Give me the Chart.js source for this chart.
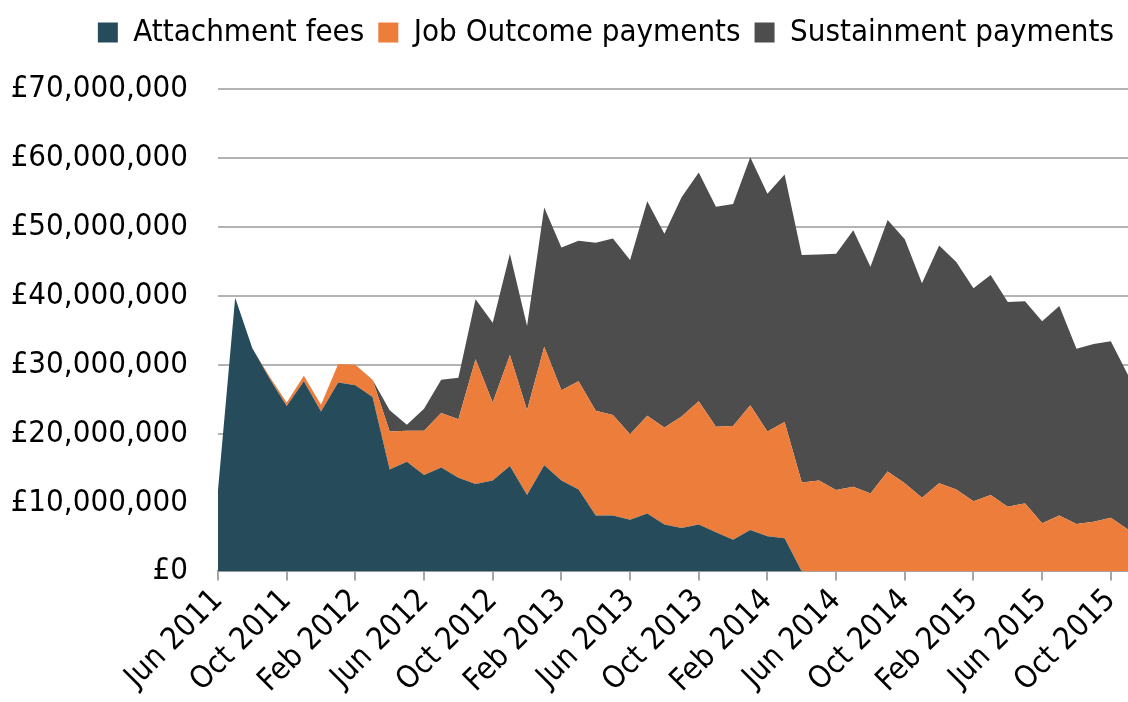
<!DOCTYPE html>
<html lang="en">

<head>
  <title>Payments by month</title>
  <script src="https://cdn.jsdelivr.net/npm/chart.js"></script>
  <style>
    body { margin: 0; background: #fff; }
    #wrap { width: 1128px; height: 702px; }
  </style>
</head>

<body>
  <div id="wrap">
    <canvas id="myChart"></canvas>
  </div>
  <script>
    // monthly, Jun 2011 to Nov 2015 (values in £ millions)
    var months = ['Jun 2011', 'Jul 2011', 'Aug 2011', 'Sep 2011', 'Oct 2011', 'Nov 2011', 'Dec 2011',
      'Jan 2012', 'Feb 2012', 'Mar 2012', 'Apr 2012', 'May 2012', 'Jun 2012', 'Jul 2012', 'Aug 2012',
      'Sep 2012', 'Oct 2012', 'Nov 2012', 'Dec 2012', 'Jan 2013', 'Feb 2013', 'Mar 2013', 'Apr 2013',
      'May 2013', 'Jun 2013', 'Jul 2013', 'Aug 2013', 'Sep 2013', 'Oct 2013', 'Nov 2013', 'Dec 2013',
      'Jan 2014', 'Feb 2014', 'Mar 2014', 'Apr 2014', 'May 2014', 'Jun 2014', 'Jul 2014', 'Aug 2014',
      'Sep 2014', 'Oct 2014', 'Nov 2014', 'Dec 2014', 'Jan 2015', 'Feb 2015', 'Mar 2015', 'Apr 2015',
      'May 2015', 'Jun 2015', 'Jul 2015', 'Aug 2015', 'Sep 2015', 'Oct 2015', 'Nov 2015'];

    var attachment = [11.8, 39.7, 32.4, 28.0, 24.0, 27.6, 23.2, 27.4, 27.0, 25.3, 14.8, 15.9, 14.0, 15.1,
      13.6, 12.7, 13.2, 15.3, 11.1, 15.4, 13.2, 11.9, 8.1, 8.1, 7.5, 8.4, 6.8, 6.3, 6.8, 5.7, 4.6, 6.0,
      5.1, 4.8, 0, 0, 0, 0, 0, 0, 0, 0, 0, 0, 0, 0, 0, 0, 0, 0, 0, 0, 0, 0];

    var jobOutcome = [0, 0, 0, 0.3, 0.5, 0.8, 1.0, 2.7, 3.0, 2.5, 5.5, 4.5, 6.4, 7.9, 8.5, 18.1, 11.3,
      16.1, 12.3, 17.2, 13.1, 15.7, 15.2, 14.6, 12.4, 14.2, 14.1, 16.2, 17.9, 15.3, 16.5, 18.1, 15.2,
      16.9, 12.9, 13.2, 11.8, 12.3, 11.3, 14.5, 12.8, 10.7, 12.8, 11.9, 10.2, 11.1, 9.4, 9.9, 7.0, 8.1,
      6.9, 7.2, 7.8, 6.1];

    var sustainment = [0, 0, 0, 0, 0, 0, 0, 0, 0, 0, 3.1, 0.9, 3.2, 4.8, 6.0, 8.7, 11.6, 14.7, 12.2,
      20.2, 20.7, 20.4, 24.4, 25.6, 25.3, 31.1, 28.1, 31.8, 33.2, 31.9, 32.2, 36.0, 34.5, 35.9, 33.0,
      32.8, 34.3, 37.2, 32.9, 36.5, 35.4, 31.1, 34.5, 33.0, 30.9, 31.9, 29.7, 29.3, 29.3, 30.4, 25.4,
      25.8, 25.6, 22.4];

    var yTicks = [0, 10000000, 20000000, 30000000, 40000000, 50000000, 60000000, 70000000];

    function toPounds(arr) {
      return arr.map(function (v) { return Math.round(v * 1000000); });
    }

    var font = { family: "'DejaVu Sans Condensed', 'DejaVu Sans', sans-serif", size: 31 };

    // push the plot down a bit under the legend
    var legendGap = {
      id: 'legendGap',
      beforeInit: function (chart) {
        var fit = chart.legend.fit;
        chart.legend.fit = function () {
          fit.bind(chart.legend)();
          this.height += 31;
        };
      }
    };

    const ctx = document.getElementById('myChart');

    new Chart(ctx, {
      type: 'line',
      plugins: [legendGap],
      data: {
        labels: months,
        datasets: [{
          label: 'Attachment fees',
          data: toPounds(attachment),
          backgroundColor: '#264b5a',
          borderColor: '#264b5a',
          fill: 'origin'
        }, {
          label: 'Job Outcome payments',
          data: toPounds(jobOutcome),
          backgroundColor: '#ed7d3a',
          borderColor: '#ed7d3a',
          fill: '-1'
        }, {
          label: 'Sustainment payments',
          data: toPounds(sustainment),
          backgroundColor: '#4d4d4d',
          borderColor: '#4d4d4d',
          fill: '-1'
        }]
      },
      options: {
        responsive: true,
        maintainAspectRatio: false,
        animation: false,
        elements: {
          point: { radius: 0 },
          line: { borderWidth: 0, tension: 0 }
        },
        layout: { padding: { left: 0, right: 0, top: 3, bottom: 0 } },
        plugins: {
          tooltip: { enabled: false },
          legend: {
            position: 'top',
            align: 'end',
            labels: {
              font: font,
              color: '#000',
              boxWidth: 20,
              boxHeight: 20,
              padding: 14
            }
          }
        },
        scales: {
          x: {
            offset: false,
            afterFit: function (scale) {
              scale.paddingRight = 0;
            },
            grid: {
              drawOnChartArea: false,
              tickLength: 9,
              lineWidth: 2,
              color: function (c) { return c.index % 4 === 0 ? '#a6a6a6' : 'rgba(0,0,0,0)'; }
            },
            border: { color: '#a6a6a6', width: 2 },
            ticks: {
              autoSkip: false,
              maxRotation: 45,
              minRotation: 45,
              font: font,
              color: '#000',
              padding: 2,
              callback: function (val, i) { return i % 4 === 0 ? months[i] : ''; }
            }
          },
          y: {
            stacked: true,
            min: 0,
            max: 70000000,
            afterBuildTicks: function (axis) {
              axis.ticks = yTicks.map(function (v) { return { value: v }; });
            },
            afterFit: function (scale) {
              scale.width = 218;
            },
            grid: { color: '#b3b3b3', lineWidth: 2, drawTicks: false },
            border: { display: false },
            ticks: {
              font: font,
              color: '#000',
              padding: 30,
              callback: function (v) { return '£' + v.toLocaleString('en-GB'); }
            }
          }
        }
      }
    });
  </script>
</body>

</html>
